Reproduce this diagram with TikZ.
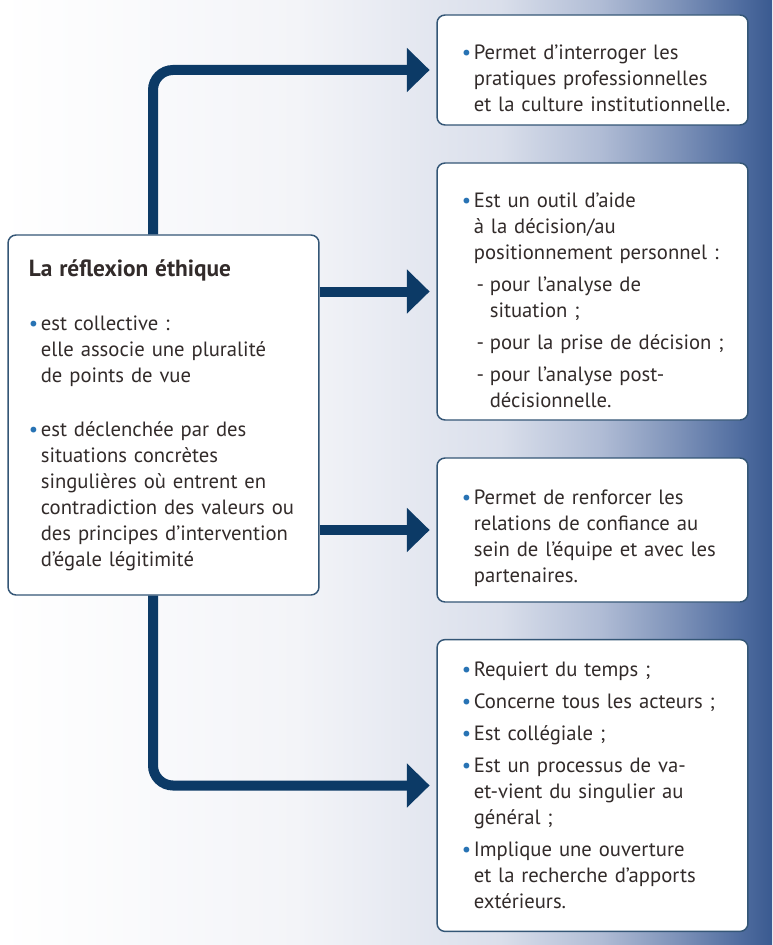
\documentclass[tikz,border=0pt]{standalone}
\usepackage{fontspec}
\setmainfont{PT Sans}
\usetikzlibrary{arrows.meta,positioning}

\definecolor{navy}{RGB}{12,58,102}
\definecolor{edge}{RGB}{52,86,118}
\definecolor{bullblue}{RGB}{40,115,180}
\definecolor{txt}{RGB}{50,43,42}
\definecolor{bgA}{RGB}{243,244,248}
\definecolor{bgB}{RGB}{218,223,235}
\definecolor{bgC}{RGB}{176,188,213}
\definecolor{bgD}{RGB}{124,145,184}
\definecolor{bgE}{RGB}{80,109,160}
\definecolor{bgF}{RGB}{58,90,144}
\pgfdeclarehorizontalshading{bgshade}{100bp}{color(0bp)=(white); color(25bp)=(white);
  color(44.4bp)=(bgA); color(57.4bp)=(bgB); color(63.9bp)=(bgC); color(69bp)=(bgD);
  color(72.9bp)=(bgE); color(75bp)=(bgF); color(100bp)=(bgF)}

\newlength{\bw}\setlength{\bw}{9pt}
\newcommand{\bul}[1]{\par\hangindent=\bw\hangafter=1\noindent\hbox to\bw{\textcolor{bullblue}{\textbullet}\hss}#1\par}
\newcommand{\dsh}[1]{\par\hangindent=21pt\hangafter=1\noindent\hbox to21pt{\hspace{11pt}-\hss}#1\par}

\begin{document}
\begin{tikzpicture}[x=0.75pt,y=-0.75pt]
\tikzstyle{box}=[rectangle,draw=edge,line width=1.1pt,fill=white,rounded corners=6pt,
  text width=222pt,inner xsep=5.6pt,align=left,text=txt,
  font=\fontsize{15.5}{19.5}\selectfont,
  execute at begin node={\hyphenpenalty=10000\setlength{\leftskip}{13pt}\setlength{\parskip}{4.5pt}}]
\tikzstyle{mainbox}=[box,execute at begin node={\setlength{\leftskip}{10pt}\setlength{\parskip}{21pt}}]
\tikzstyle{flow}=[draw=navy,line width=7.5pt,rounded corners=15pt,
  -{Triangle[length=17pt,width=32pt]},shorten >=5pt]

% background
\shade[shading=bgshade] (0,0) rectangle (772,945);
\useasboundingbox (0,0) rectangle (772,945);

\coordinate (trunk) at (153,415);

\node[mainbox,minimum height=270pt] (reflexion) at (163.5,415) {{\fontsize{17.5}{19.5}\selectfont\bfseries La réflexion éthique}\par
\bul{est collective :\newline elle associe une pluralité\newline de points de vue}
\bul{est déclenchée par des\newline situations concrètes\newline singulières où entrent en\newline contradiction des valeurs ou\newline des principes d’intervention\newline d’égale légitimité}};

\node[box,minimum height=82.5pt] (interroger) at (592.5,70) {%
\bul{Permet d’interroger les\newline pratiques professionnelles\newline et la culture institutionnelle.}};

\node[box,minimum height=192.75pt] (outil) at (592.5,291.5) {%
\bul{Est un outil d’aide\newline à la décision/au\newline positionnement personnel :}
\dsh{pour l’analyse de\newline situation ;}
\dsh{pour la prise de décision ;}
\dsh{pour l’analyse post-\newline décisionnelle.}};

\node[box,minimum height=108pt] (confiance) at (592.5,530) {%
\bul{Permet de renforcer les\newline relations de confiance au\newline sein de l’équipe et avec les\newline partenaires.}};

\node[box,minimum height=216.75pt] (temps) at (592.5,785.5) {%
\bul{Requiert du temps ;}
\bul{Concerne tous les acteurs ;}
\bul{Est collégiale ;}
\bul{Est un processus de va-\newline et-vient du singulier au\newline général ;}
\bul{Implique une ouverture\newline et la recherche d’apports\newline extérieurs.}\vspace*{14pt}};

% connectors
\draw[flow] (reflexion.north -| trunk) |- (interroger.west);
\draw[flow] (outil.west -| reflexion.east) -- (outil.west);
\draw[flow] (confiance.west -| reflexion.east) -- (confiance.west);
\draw[flow] (reflexion.south -| trunk) |- (temps.west);

\end{tikzpicture}
\end{document}
